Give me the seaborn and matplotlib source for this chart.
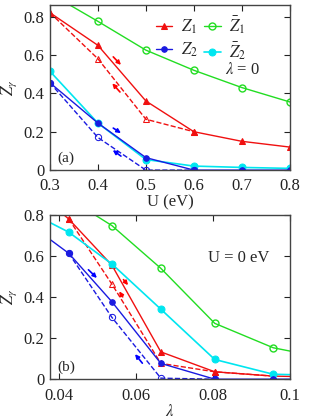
import matplotlib
matplotlib.use("Agg")
from matplotlib import pyplot as plt
import numpy as np
import pandas as pd
import seaborn as sns

# panel (a): lambda = 0, vs U
U = [0.3, 0.4, 0.5, 0.6, 0.7, 0.8]
a_z1 = [0.82, 0.65, 0.36, 0.20, 0.15, 0.12]
a_z1_back = [0.82, 0.58, 0.265, 0.20]
a_zb1 = [0.92, 0.775, 0.625, 0.52, 0.43, 0.355]
a_z2 = [0.455, 0.245, 0.065, 0.0, 0.0, 0.0]
a_z2_back = [0.455, 0.17, 0.0, 0.0]
a_zb2 = [0.515, 0.245, 0.055, 0.021, 0.014, 0.009]

# panel (b): U = 0, vs lambda
lam = [0.032, 0.0426, 0.0538, 0.0665, 0.0805, 0.0957, 0.11]
b_z1 = [0.95, 0.78, 0.555, 0.133, 0.036, 0.015, 0.01]
b_z1_back = [0.78, 0.463, 0.077, 0.036, 0.015]
b_zb1 = [1.0, 0.88, 0.748, 0.540, 0.272, 0.153, 0.10]
b_z2 = [0.76, 0.613, 0.377, 0.077, 0.0, 0.0, 0.0]
b_z2_back = [0.613, 0.301, 0.005, 0.0]
b_zb2 = [0.818, 0.716, 0.561, 0.341, 0.096, 0.024, 0.018]

# hysteresis arrows (tail x, tail y, head x, head y, colour)
arrows_a = [(0.432, 0.59, 0.448, 0.548, 'red'), (0.446, 0.407, 0.430, 0.452, 'red'),
            (0.432, 0.219, 0.448, 0.193, 'blue'), (0.448, 0.073, 0.431, 0.104, 'blue')]
arrows_b = [(0.0568, 0.485, 0.0580, 0.458, 'red'), (0.0566, 0.401, 0.0557, 0.428, 'red'),
            (0.0477, 0.533, 0.0499, 0.493, 'blue'), (0.0617, 0.078, 0.0598, 0.122, 'blue')]

RED, GREEN, BLUE, CYAN = '#f01010', '#22dd22', '#1a1ae0', '#00e6f0'

sns.set_style('ticks')
plt.rcParams['font.family'] = ['Liberation Serif', 'DejaVu Serif']
plt.rcParams['mathtext.fontset'] = 'stix'
plt.rcParams['font.size'] = 12

fig = plt.figure(figsize=(3.12, 4.19), dpi=100)
ax1 = fig.add_axes([0.160, 0.594, 0.769, 0.394])
ax2 = fig.add_axes([0.160, 0.095, 0.769, 0.392])


def draw(ax, x, z1, z1b, zb1, z2, z2b, zb2):
    xb = x if x[0] == 0.3 else x[1:]
    sns.lineplot(x=x, y=z1, ax=ax, color=RED, marker='^', markersize=4.5, mec=RED,
                 lw=1, label=r'$Z_1$')
    sns.lineplot(x=xb[:len(z1b)], y=z1b, ax=ax, color=RED, marker='^', markersize=5,
                 mfc='none', mec=RED, lw=1, linestyle='--')
    sns.lineplot(x=x, y=zb1, ax=ax, color=GREEN, marker='o', markersize=5, mfc='none',
                 mec=GREEN, mew=1, lw=1, label=r'$\bar{Z}_1$')
    sns.lineplot(x=x, y=zb2, ax=ax, color=CYAN, marker='o', markersize=5, mec=CYAN,
                 lw=1.2, label=r'$\bar{Z}_2$')
    sns.lineplot(x=x, y=z2, ax=ax, color=BLUE, marker='o', markersize=4, mec=BLUE,
                 lw=1, label=r'$Z_2$')
    sns.lineplot(x=xb[:len(z2b)], y=z2b, ax=ax, color=BLUE, marker='o', markersize=4.5,
                 mfc='none', mec=BLUE, lw=1, linestyle='--')


draw(ax1, U, a_z1, a_z1_back, a_zb1, a_z2, a_z2_back, a_zb2)
draw(ax2, lam, b_z1, b_z1_back, b_zb1, b_z2, b_z2_back, b_zb2)

for ax, arr in [(ax1, arrows_a), (ax2, arrows_b)]:
    for x0, y0, x1, y1, c in arr:
        ax.annotate('', xy=(x1, y1), xytext=(x0, y0),
                    arrowprops=dict(arrowstyle='-|>', color=c, lw=1.2,
                                    mutation_scale=6, shrinkA=0, shrinkB=0))

# legend in panel (a) only
h, l = ax1.get_legend_handles_labels()
order = [l.index(r'$Z_1$'), l.index(r'$Z_2$'), l.index(r'$\bar{Z}_1$'), l.index(r'$\bar{Z}_2$')]
ax1.legend([h[i] for i in order], [l[i] for i in order], ncol=2, frameon=False,
           loc='upper right', bbox_to_anchor=(0.86, 1.0), fontsize=12,
           handlelength=1.0, handletextpad=0.5, columnspacing=0.4, labelspacing=0.25,
           borderaxespad=0.2)
ax2.get_legend().remove()

ax1.set_xlim(0.3, 0.8)
ax1.set_ylim(0, 0.86)
ax1.set_xticks([0.3, 0.4, 0.5, 0.6, 0.7, 0.8])
ax1.set_xticklabels(['0.3', '0.4', '0.5', '0.6', '0.7', '0.8'])
ax1.set_yticks([0, 0.2, 0.4, 0.6, 0.8])
ax1.set_yticklabels(['0', '0.2', '0.4', '0.6', '0.8'])
ax1.set_xlabel('U (eV)', labelpad=0)
ax1.text(0.665, 0.52, r'$\lambda$ = 0', fontsize=12, va='center')
ax1.text(0.03, 0.05, '(a)', transform=ax1.transAxes, fontsize=11)

ax2.set_xlim(0.0377, 0.1)
ax2.set_ylim(0, 0.8)
ax2.set_xticks([0.04, 0.06, 0.08, 0.1])
ax2.set_xticklabels(['0.04', '0.06', '0.08', '0.1'])
ax2.set_yticks([0, 0.2, 0.4, 0.6, 0.8])
ax2.set_yticklabels(['0', '0.2', '0.4', '0.6', '0.8'])
ax2.set_xlabel(r'$\lambda$', labelpad=0)
ax2.text(0.66, 0.74, 'U = 0 eV', transform=ax2.transAxes, fontsize=12, va='center')
ax2.text(0.03, 0.05, '(b)', transform=ax2.transAxes, fontsize=11)

for ax in (ax1, ax2):
    ax.set_ylabel(r'$Z_\gamma$', fontsize=12)
    ax.yaxis.set_label_coords(-0.127, 0.5)
    ax.tick_params(direction='in', top=True, right=True, length=4, width=0.8,
                   labelsize=12, colors='#222222')
    ax.tick_params(axis='x', pad=6)
    ax.tick_params(axis='y', pad=4)
    for s in ax.spines.values():
        s.set_color('#444444')
        s.set_linewidth(1)

fig.savefig('out.png', dpi=100)
